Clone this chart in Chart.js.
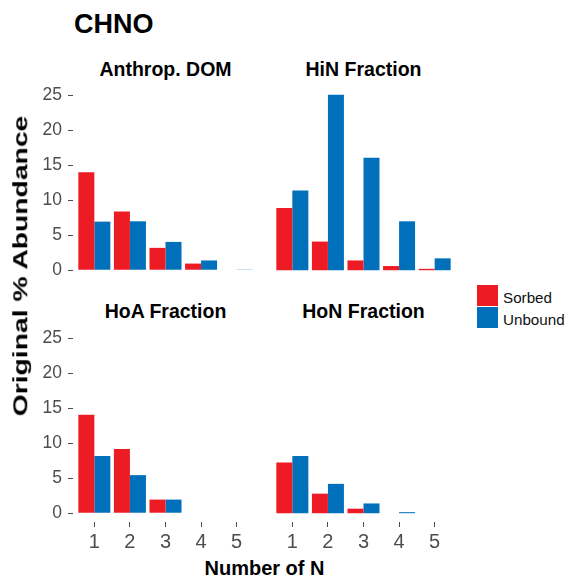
<!DOCTYPE html>
<html>
<head>
<meta charset="utf-8">
<script src="https://cdn.jsdelivr.net/npm/chart.js@4/dist/chart.umd.min.js"></script>
<style>
  html, body { margin: 0; padding: 0; background: #fff; }
  body { width: 566px; height: 576px; position: relative; overflow: hidden;
         font-family: "Liberation Sans", Arial, sans-serif; }
  canvas { position: absolute; }
  .txt { position: absolute; white-space: nowrap; line-height: 1; color: #000; }
  .key { position: absolute; width: 21px; height: 21px; }
</style>
</head>
<body>
<canvas id="c0"></canvas>
<canvas id="c1"></canvas>
<canvas id="c2"></canvas>
<canvas id="c3"></canvas>
<script>
// ---------------- data ----------------
const chartTitle = "CHNO";
const numberOfN = [1, 2, 3, 4, 5];
const seriesNames = ["Sorbed", "Unbound"];
const panelNames = ["Anthrop. DOM", "HiN Fraction", "HoA Fraction", "HoN Fraction"];
const anthropSorbed  = [14.0, 8.4, 3.2, 0.95, 0];
const anthropUnbound = [6.95, 7.0, 4.05, 1.4, 0.1];
const hinSorbed      = [8.9, 4.1, 1.4, 0.6, 0.2];
const hinUnbound     = [11.4, 25.1, 16.1, 7.0, 1.7];
const hoaSorbed      = [14.1, 9.2, 1.95, 0, 0];
const hoaUnbound     = [8.2, 5.45, 1.95, 0, 0];
const honSorbed      = [7.25, 2.8, 0.65, 0, 0];
const honUnbound     = [8.2, 4.2, 1.4, 0.15, 0];
const yTickValues = [0, 5, 10, 15, 20, 25];
const xAxisTitle = "Number of N";
const yAxisTitle = "Original % Abundance";

// ---------------- styles ----------------
const FONT = '"Liberation Sans", Arial, sans-serif';
const colors = ["#ED1C24", "#0070BB"];
const tickColor = "#4D4D4D";

const dataMax = Math.max(...anthropSorbed, ...anthropUnbound, ...hinSorbed, ...hinUnbound,
                         ...hoaSorbed, ...hoaUnbound, ...honSorbed, ...honUnbound);
const yMin = -0.05 * dataMax, yMax = dataMax * 1.05;

const panels = [
  { id: "c0", s: anthropSorbed, u: anthropUnbound, left: 0,   top: 86,  w: 258, h: 193, showY: true,  showX: false },
  { id: "c1", s: hinSorbed,     u: hinUnbound,     left: 271, top: 86,  w: 185, h: 193, showY: false, showX: false },
  { id: "c2", s: hoaSorbed,     u: hoaUnbound,     left: 0,   top: 329, w: 258, h: 223, showY: true,  showX: true },
  { id: "c3", s: honSorbed,     u: honUnbound,     left: 271, top: 329, w: 185, h: 223, showY: false, showX: true },
];

panels.forEach(p => {
  const cv = document.getElementById(p.id);
  cv.width = p.w; cv.height = p.h;
  cv.style.left = p.left + "px"; cv.style.top = p.top + "px";
  cv.style.width = p.w + "px"; cv.style.height = p.h + "px";
  new Chart(cv, {
    type: "bar",
    data: {
      datasets: [p.s, p.u].map((vals, i) => ({
        label: seriesNames[i],
        data: numberOfN.map((n, k) => ({ x: n, y: vals[k] })),
        backgroundColor: colors[i],
        borderWidth: 0,
        categoryPercentage: 0.9,
        barPercentage: 1.0
      }))
    },
    options: {
      responsive: false,
      animation: false,
      events: [],
      layout: { padding: 0 },
      plugins: { legend: { display: false }, tooltip: { enabled: false } },
      scales: {
        x: {
          type: "linear",
          offset: false,
          min: 0.4, max: 5.6,
          display: p.showX,
          afterBuildTicks: s => { s.ticks = numberOfN.map(v => ({ value: v })); },
          afterFit: s => {
            s.height = p.showX ? 30 : 0;
            s.paddingLeft = 0; s.paddingRight = 0; s.paddingTop = 0; s.paddingBottom = 0;
          },
          border: { display: false },
          grid: { offset: false, drawOnChartArea: false, drawTicks: true, tickLength: 5, color: tickColor, lineWidth: 1 },
          ticks: { color: tickColor, padding: 3, maxRotation: 0, autoSkip: false,
                   font: { family: FONT, size: 20 }, callback: v => String(v) }
        },
        y: {
          type: "linear",
          min: yMin, max: yMax,
          display: p.showY,
          afterBuildTicks: s => { s.ticks = yTickValues.map(v => ({ value: v })); },
          afterFit: s => {
            s.width = p.showY ? 73 : 0;
            s.paddingTop = 0; s.paddingBottom = 0; s.paddingLeft = 0; s.paddingRight = 0;
          },
          border: { display: false },
          grid: { drawOnChartArea: false, drawTicks: true, tickLength: 5, color: tickColor, lineWidth: 1 },
          ticks: { color: tickColor, padding: 6, autoSkip: false,
                   font: { family: FONT, size: 17.5 }, callback: v => String(v) }
        }
      }
    }
  });
});

// ---------------- text ----------------
const ASC = 0.8465; // baseline offset (em) for line-height 1 in Liberation Sans
function addText(str, opts) {
  const d = document.createElement("div");
  d.className = "txt";
  d.textContent = str;
  d.style.fontSize = opts.size + "px";
  d.style.fontWeight = opts.bold ? "bold" : "normal";
  if (opts.color) d.style.color = opts.color;
  d.style.top = (opts.baseline - ASC * opts.size) + "px";
  d.style.left = opts.x + "px";
  if (opts.align === "center") d.style.transform = "translateX(-50%)";
  document.body.appendChild(d);
  return d;
}

addText(chartTitle, { x: 74, baseline: 34, size: 27, bold: true });
addText(panelNames[0], { x: 165.5, baseline: 76.5, size: 19.5, bold: true, align: "center" });
addText(panelNames[1], { x: 363.5, baseline: 76.5, size: 19.5, bold: true, align: "center" });
addText(panelNames[2], { x: 165.5, baseline: 318.5, size: 19.5, bold: true, align: "center" });
addText(panelNames[3], { x: 363.5, baseline: 318.5, size: 19.5, bold: true, align: "center" });
addText(xAxisTitle, { x: 264.5, baseline: 575, size: 20, bold: true, align: "center" });

// rotated y title
(function () {
  const d = document.createElement("div");
  d.className = "txt";
  d.textContent = yAxisTitle;
  d.style.fontSize = "19.5px";
  d.style.fontWeight = "bold";
  d.style.left = "20.5px";
  d.style.top = "266px";
  d.style.transform = "translate(-50%, -50%) rotate(-90deg) scaleX(1.45)";
  document.body.appendChild(d);
})();

// legend
seriesNames.forEach((name, i) => {
  const k = document.createElement("div");
  k.className = "key";
  k.style.left = "477px";
  k.style.top = (285 + i * 22) + "px";
  k.style.background = colors[i];
  document.body.appendChild(k);
  addText(name, { x: 503, baseline: 303 + i * 21.5, size: 15.2, bold: false, color: "#111" });
});
</script>
</body>
</html>
